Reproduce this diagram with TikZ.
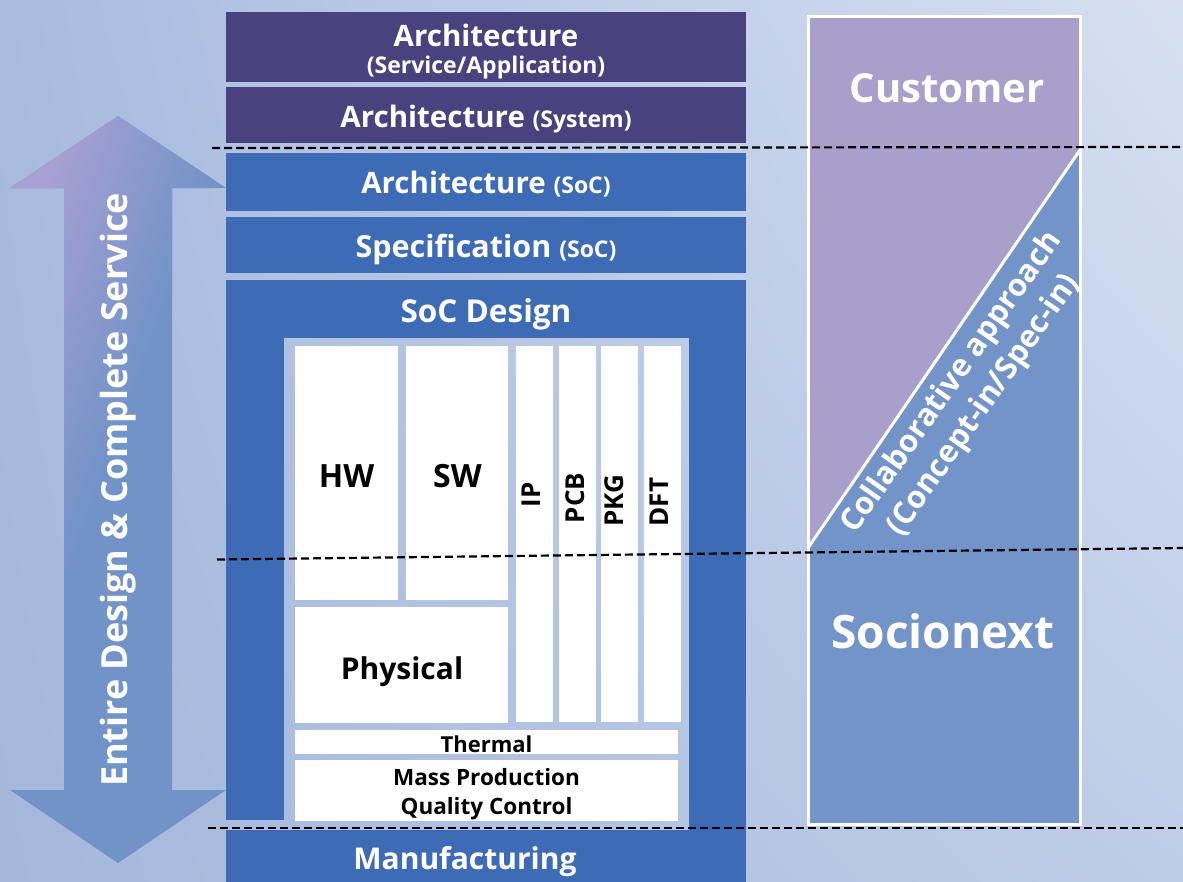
\documentclass[tikz,border=0pt]{standalone}
\usepackage{fontspec}
\setmainfont{Open Sans}
\usetikzlibrary{shadings}
\definecolor{bgUL}{HTML}{A8BBDF}
\definecolor{bgUR}{HTML}{D6E0F1}
\definecolor{bgLL}{HTML}{A4B8DC}
\definecolor{bgLR}{HTML}{BECCE7}
\definecolor{archP}{HTML}{4A417F}
\definecolor{socB}{HTML}{3D6BB5}
\definecolor{custP}{HTML}{A99FCB}
\definecolor{sociB}{HTML}{7294C8}
\definecolor{arrP}{HTML}{A8A0D3}
\definecolor{arrB}{HTML}{7193C8}
\newcommand\fsz[2]{\fontsize{#1}{#2}\selectfont}
\tikzset{
  blk/.style={inner sep=0pt, outer sep=0pt, anchor=north west, draw=none},
  wbox/.style={blk, fill=white},
  wt/.style={text=white, font=\bfseries, inner sep=0pt},
  bk/.style={text=black, font=\bfseries, inner sep=0pt},
  dsh/.style={draw=black, line width=2.2pt, dash pattern=on 8pt off 4pt},
  arrowpath/.style={},
}
\def\arrowshape{(118,116) -- (226,188) -- (172,188) -- (172,790) -- (226,790) -- (118,863) -- (10,790) -- (64,790) -- (64,188) -- (10,188) -- cycle}
\begin{document}
\begin{tikzpicture}[x=1pt,y=-1pt]
\useasboundingbox (0,0) rectangle (1183,881);
\shade[upper left=bgUL, upper right=bgUR, lower left=bgLL, lower right=bgLR] (0,0) rectangle (1183,881);

% double arrow with purple-to-blue gradient
\fill[arrB] \arrowshape;
\begin{scope}
\clip \arrowshape;
\fill[arrP, transform canvas={rotate around={-20:(108,240)}}] (-300,-400) rectangle (68,900);
\shade[left color=arrP, right color=arrB, transform canvas={rotate around={-20:(108,240)}}] (28,-400) rectangle (188,900);
\end{scope}
\node[wt, rotate=90] (ent) at (118,490) {\fsz{36}{40}Entire Design \& Complete Service};

% layered boxes
\node[blk, fill=archP, minimum width=520pt, minimum height=70pt] (b1) at (226,12) {};
\node[blk, fill=archP, minimum width=520pt, minimum height=56pt] (b2) at (226,87) {};
\node[blk, fill=socB, minimum width=520pt, minimum height=58pt] (b3) at (226,153) {};
\node[blk, fill=socB, minimum width=520pt, minimum height=56pt] (b4) at (226,217) {};
\node[blk, fill=socB, minimum width=520pt, minimum height=58pt] (soch) at (226,280) {};
\node[blk, fill=socB, minimum width=58pt, minimum height=482pt] (socl) at (226,338) {};
\node[blk, fill=socB, minimum width=57pt, minimum height=494pt] (socr) at (689,338) {};
\node[blk, fill=socB, minimum width=520pt, minimum height=52pt] (manu) at (226,830) {};

\node[wt, anchor=base] (t1) at (486,46) {\fsz{29.5}{34}Architecture};
\node[wt, anchor=base] (t1b) at (486,73) {\fsz{23}{26}(Service/Application)};
\node[wt, anchor=base] (t2) at (486,127) {\fsz{29.5}{34}Architecture \fsz{23}{26}(System)};
\node[wt, anchor=base] (t3) at (486,193) {\fsz{29.5}{34}Architecture \fsz{23}{26}(SoC)};
\node[wt, anchor=base] (t4) at (486,257) {\fsz{30.5}{34}Specification \fsz{23}{26}(SoC)};
\node[wt, anchor=base] (t5) at (486,322) {\fsz{31.5}{34}SoC Design};
\node[wt, anchor=base] (t6) at (465,869) {\fsz{30}{34}Manufacturing};

% inner white boxes
\node[wbox, minimum width=103pt, minimum height=254pt] (hw) at (295,346) {};
\node[wbox, minimum width=102pt, minimum height=254pt] (sw) at (406,346) {};
\node[wbox, minimum width=37pt, minimum height=376pt] (ip) at (516,346) {};
\node[wbox, minimum width=37pt, minimum height=376pt] (pcb) at (559,346) {};
\node[wbox, minimum width=37pt, minimum height=376pt] (pkg) at (601,346) {};
\node[wbox, minimum width=37pt, minimum height=376pt] (dft) at (644,346) {};
\node[wbox, minimum width=213pt, minimum height=116pt] (phy) at (295,607) {};
\node[wbox, minimum width=383pt, minimum height=24pt] (thm) at (295,730) {};
\node[wbox, minimum width=383pt, minimum height=61pt] (mpq) at (295,760) {};

\node[bk, anchor=base] (thw) at (346.5,487) {\fsz{32}{36}HW};
\node[bk, anchor=base] (tsw) at (457.5,487) {\fsz{32}{36}SW};
\node[bk, rotate=90] (tip) at (531,495) {\fsz{26}{30}IP};
\node[bk, rotate=90] (tpcb) at (575.5,498) {\fsz{26}{30}PCB};
\node[bk, rotate=90] (tpkg) at (614.5,501) {\fsz{26}{30}PKG};
\node[bk, rotate=90] (tdft) at (659.5,502) {\fsz{26}{30}DFT};
\node[bk, anchor=base] (tphy) at (402,679) {\fsz{30}{34}Physical};
\node[bk, anchor=base] (tthm) at (486.5,752) {\fsz{22}{26}Thermal};
\node[bk, align=center, font=\bfseries\fsz{22.5}{29}] (tmpq) at (486.5,794.5) {Mass Production\\Quality Control};

% right panel
\fill[custP] (808,16) -- (1080,16) -- (1080,150) -- (808,548) -- cycle;
\fill[sociB] (1080,150) -- (1080,824) -- (808,824) -- (808,548) -- cycle;
\draw[white, line width=3pt] (808,16) rectangle (1080,824);
\draw[white, line width=3pt] (1080,150) -- (808,548);
\node[wt, anchor=base] (cust) at (947,102) {\fsz{40}{46}Customer};
\node[wt, anchor=base] (soci) at (943,648) {\fsz{46}{52}Socionext};
\node[wt, rotate=55, align=center, font=\bfseries\fsz{31}{39}] (collab) at (968,394) {Collaborative approach\\(Concept-in/Spec-in)};

% dashed separators
\coordinate (d1a) at (212,148); \coordinate (d1b) at (1183,147);
\coordinate (d2a) at (217,559.5); \coordinate (d2b) at (1183,548);
\coordinate (d3a) at (208,828); \coordinate (d3b) at (1183,828);
\draw[dsh] (d1a) -- (d1b);
\draw[dsh] (d2a) -- (d2b);
\draw[dsh] (d3a) -- (d3b);
\end{tikzpicture}
\end{document}
